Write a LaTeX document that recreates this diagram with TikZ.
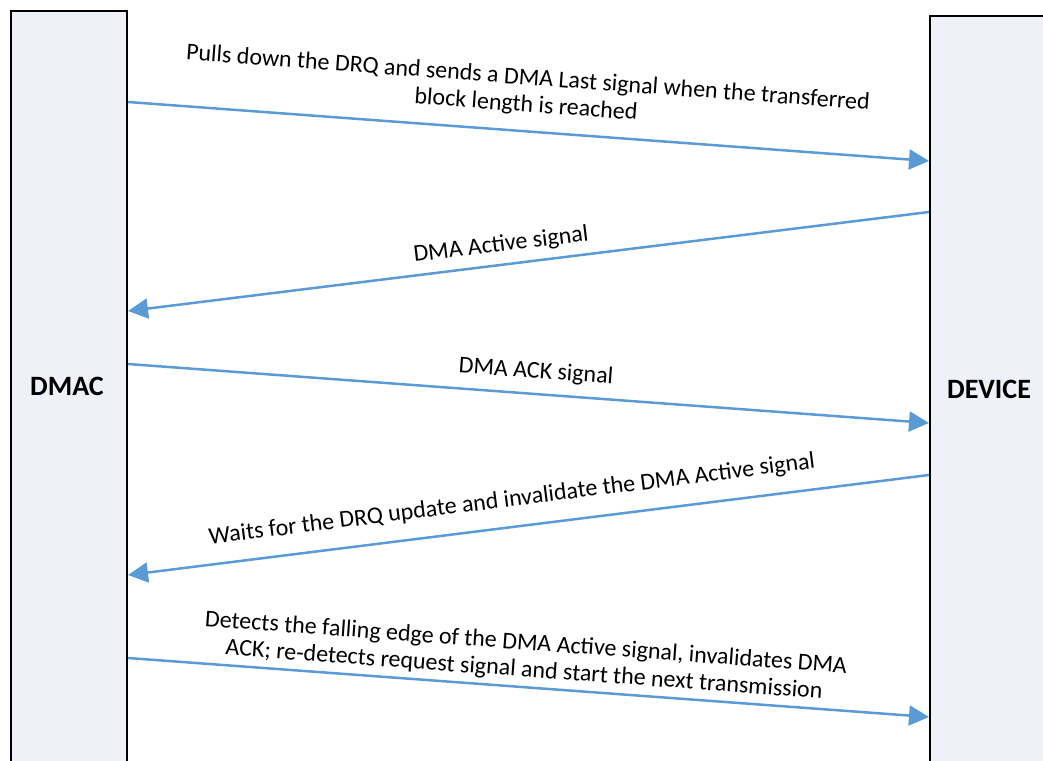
\documentclass[tikz,border=0pt]{standalone}
\usepackage{fontspec}
\setmainfont{Carlito}
\usetikzlibrary{arrows.meta,positioning}
\definecolor{lanefill}{HTML}{EEF2F8}
\definecolor{msgblue}{HTML}{5B9BD5}

\begin{document}
\begin{tikzpicture}
  [
  x=1pt, y=1pt,
  lane/.style = {draw=black, line width=2pt, fill=lanefill, inner sep=0pt,
    anchor=north west, minimum width=116pt, minimum height=800pt},
  lanename/.style = {font=\fontsize{28}{32}\selectfont\bfseries},
  msg/.style = {draw=msgblue, line width=2.5pt, -{Triangle[length=20pt,width=20pt]}},
  msgtext/.style = {font=\fontsize{24}{27}\selectfont, align=center, inner sep=0pt},
  ]

  \useasboundingbox (0,0) rectangle (1043,-760);
  \clip (0,0) rectangle (1043,-760);

  % the two lifelines
  \node[lane] (dmac) at (10,-10) {};
  \node[lane] (device) at (929,-15) {};
  \node[lanename] (dmacname) at (67,-386) {DMAC};
  \node[lanename] (devicename) at (989,-389) {DEVICE};

  % message end points
  \coordinate (a1) at (dmac.east |- 0,-102);
  \coordinate (b1) at (device.west |- 0,-161);
  \coordinate (b2) at (device.west |- 0,-212);
  \coordinate (a2) at (dmac.east |- 0,-311);
  \coordinate (a3) at (dmac.east |- 0,-364);
  \coordinate (b3) at (device.west |- 0,-423);
  \coordinate (b4) at (device.west |- 0,-475);
  \coordinate (a4) at (dmac.east |- 0,-575);
  \coordinate (a5) at (dmac.east |- 0,-658);
  \coordinate (b5) at (device.west |- 0,-717);

  \draw[msg] (a1) -- (b1);
  \draw[msg] (b2) -- (a2);
  \draw[msg] (a3) -- (b3);
  \draw[msg] (b4) -- (a4);
  \draw[msg] (a5) -- (b5);

  \node[msgtext, rotate=-4.2] (lastlbl) at (527,-92)
    {Pulls down the DRQ and sends a DMA Last signal when the transferred\\block length is reached};
  \node[msgtext, rotate=7] (activelbl) at (501,-245) {DMA Active signal};
  \node[msgtext, rotate=-4.2] (acklbl) at (536,-372) {DMA ACK signal};
  \node[msgtext, rotate=7.2] (waitlbl) at (512,-500)
    {Waits for the DRQ update and invalidate the DMA Active signal};
  \node[msgtext, rotate=-4.2] (restartlbl) at (525,-657)
    {Detects the falling edge of the DMA Active signal, invalidates DMA\\ACK; re-detects request signal and start the next transmission};

\end{tikzpicture}
\end{document}
